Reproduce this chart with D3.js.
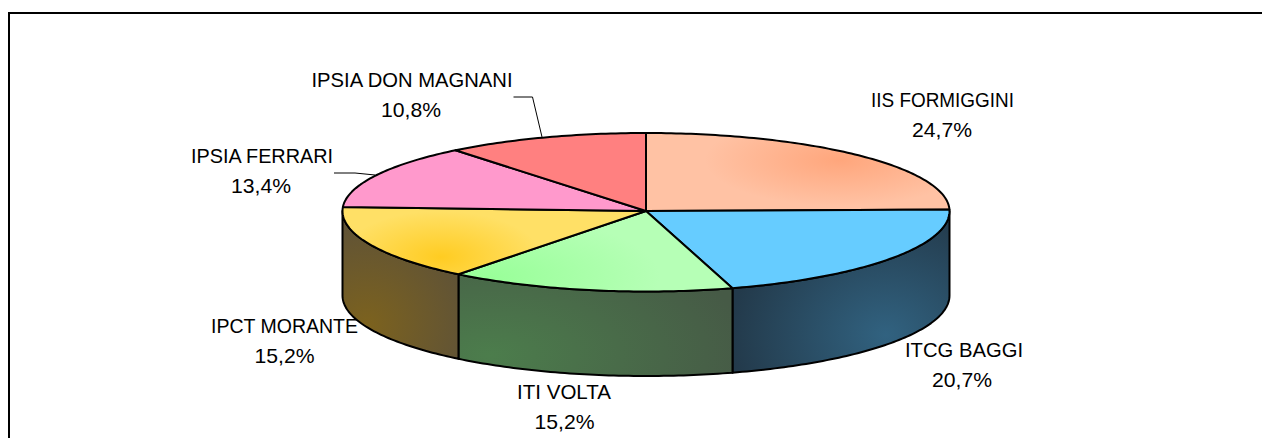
<!DOCTYPE html>
<html><head><meta charset="utf-8">
<script src="https://cdn.jsdelivr.net/npm/d3@7"></script>
<style>html,body{margin:0;padding:0;background:#fff;overflow:hidden}svg{display:block}
text{font-family:"Liberation Sans",Arial,sans-serif;font-size:21px;fill:#000;text-anchor:middle}</style>
</head><body><svg id="c" width="1262" height="438"></svg>
<script>
const categories=["IIS FORMIGGINI","ITCG BAGGI","ITI VOLTA","IPCT MORANTE","IPSIA FERRARI","IPSIA DON MAGNANI"];
const values=[24.7,20.7,15.2,15.2,13.4,10.8];
const valueLabels=["24,7%","20,7%","15,2%","15,2%","13,4%","10,8%"];
const topColors=[["#ffa67c","#ffc2a4"],["#66ccff","#66ccff"],["#99ff99","#b6ffb6"],["#ffcc22","#ffe066"],["#ff99cc","#ff99cc"],["#ff8080","#ff8080"]];
const sideColors=[null,["#316280","#233a4b"],["#4c7d4c","#465a46"],["#7c621e","#5e5238"],null,null];
const nameX=[942.5,964,564,284.5,262,412];
const nameY=[107,357,399,333,163,87];
const pctX=[942,962,564.5,284.5,261,411];
const pctY=[137,387,429,363,193,117];
const nameWidths=[143,118,94,147,142,201];
const pctWidth=60;
const leaders=[null,null,null,null,[[334,173],[355,173],[375,175]],[[513.5,97],[532.5,97],[542,137]]];
const topGrad=[[840,160,135,46],null,[490,277,170,62],[441,257,100,46],null,null];
const sideGrad=[null,[886,335,155,130],[490,355,260,130],[367,325,110,110],null,null];

const svg=d3.select("#c");
const cx=646,cyTop=133,cyBottom=291.5,rx=303.5,depth=84.5;
svg.append("path").attr("d",d3.line()([[1262,13],[9,13],[9,438]])).attr("fill","none").attr("stroke","#000").attr("stroke-width",2);

const sx=d3.scaleLinear().domain([-1,1]).range([cx-rx,cx+rx]);
const sy=d3.scaleLinear().domain([-1,0,1]).range([cyTop,211,cyBottom]);
const px=a=>sx(Math.sin(a)), py=a=>sy(-Math.cos(a));
const arcs=d3.pie().sort(null).value(d=>d)(values);
const defs=svg.append("defs");
function arcPts(a0,a1,dy){const n=Math.max(2,Math.ceil((a1-a0)*60));
  return d3.range(n+1).map(i=>{const a=a0+(a1-a0)*i/n;return [px(a),py(a)+dy]});}
const line=d3.line();

function radial(id,g,c0,c1){
  const r=defs.append("radialGradient").attr("id",id).attr("gradientUnits","userSpaceOnUse")
    .attr("cx",0).attr("cy",0).attr("r",1)
    .attr("gradientTransform",`translate(${g[0]},${g[1]}) scale(${g[2]},${g[3]})`);
  r.append("stop").attr("offset",0).attr("stop-color",c0);
  r.append("stop").attr("offset",1).attr("stop-color",c1);
}
arcs.forEach((d,i)=>{
  if(topGrad[i])radial("t"+i,topGrad[i],topColors[i][0],topColors[i][1]);
  if(sideGrad[i])radial("s"+i,sideGrad[i],sideColors[i][0],sideColors[i][1]);
});

const visStart=Math.PI/2, visEnd=3*Math.PI/2;
arcs.forEach((d,i)=>{
  const a0=Math.max(d.startAngle,visStart),a1=Math.min(d.endAngle,visEnd);
  if(a1<=a0)return;
  const pts=arcPts(a0,a1,0).concat(arcPts(a0,a1,depth).reverse());
  svg.append("path").attr("d",line(pts)+"Z")
    .attr("fill",sideColors[i]?`url(#s${i})`:"#555").attr("stroke","#000").attr("stroke-width",2).attr("stroke-linejoin","round");
});
arcs.forEach((d,i)=>{
  const pts=[[cx,211]].concat(arcPts(d.startAngle,d.endAngle,0));
  svg.append("path").attr("d",line(pts)+"Z")
    .attr("fill",topGrad[i]?`url(#t${i})`:topColors[i][0])
    .attr("stroke","#000").attr("stroke-width",2).attr("stroke-linejoin","round");
});
leaders.forEach(l=>{if(l)svg.append("path").attr("d",line(l)).attr("fill","none").attr("stroke","#000").attr("stroke-width",1);});
categories.forEach((c,i)=>{
  svg.append("text").attr("x",nameX[i]).attr("y",nameY[i]).attr("textLength",nameWidths[i]).attr("lengthAdjust","spacingAndGlyphs").text(c);
  svg.append("text").attr("x",pctX[i]).attr("y",pctY[i]).attr("textLength",pctWidth).attr("lengthAdjust","spacingAndGlyphs").text(valueLabels[i]);
});
</script></body></html>
